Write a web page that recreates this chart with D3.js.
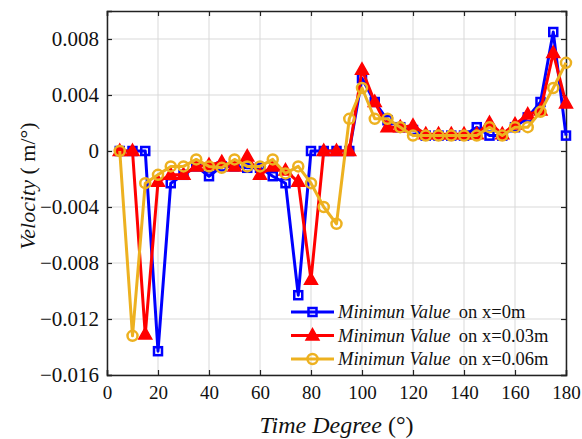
<!DOCTYPE html>
<html>
<head>
<meta charset="utf-8">
<script src="https://cdn.jsdelivr.net/npm/d3@7"></script>
<style>
  svg text, svg tspan { font-family: "Liberation Serif", "Times New Roman", Tinos, serif !important; }
</style>
</head>
<body style="margin:0">
<script>
// sample angles
const degrees = [5,10,15,20,25,30,35,40,45,50,55,60,65,70,75,80,85,90,95,100,105,110,115,120,125,130,135,140,145,150,155,160,165,170,175,180];

const velX0 = [0,0,0,-0.0143,-0.0023,-0.0017,-0.0011,-0.0018,-0.0011,-0.0011,-0.0012,-0.0012,-0.0018,-0.0023,-0.0103,0,0,0,0,0.0052,0.0035,0.0022,0.0017,0.0015,0.0011,0.0011,0.0011,0.0011,0.0017,0.0011,0.0011,0.0017,0.0024,0.0035,0.0085,0.0011];
const velX003 = [0,0,-0.0131,-0.0022,-0.0017,-0.0017,-0.0011,-0.0010,-0.0008,-0.0011,-0.0004,-0.0017,-0.0011,-0.0014,-0.0022,-0.0092,0,0,0,0.0058,0.0035,0.0017,0.0017,0.0018,0.0012,0.0012,0.0012,0.0012,0.0012,0.0020,0.0012,0.0019,0.0026,0.0029,0.0070,0.0034];
const velX006 = [0,-0.0132,-0.0023,-0.0017,-0.0011,-0.0011,-0.0006,-0.0011,-0.0012,-0.0006,-0.0011,-0.0011,-0.0006,-0.0016,-0.0011,-0.0023,-0.0040,-0.0052,0.0023,0.0045,0.0023,0.0023,0.0017,0.0011,0.0011,0.0011,0.0011,0.0011,0.0011,0.0017,0.0011,0.0017,0.0017,0.0028,0.0045,0.0063];

const xTicks = [0,20,40,60,80,100,120,140,160,180];
const yTicks = [-0.016,-0.012,-0.008,-0.004,0,0.004,0.008];
const seriesNames = ["on x=0m", "on x=0.03m", "on x=0.06m"];

const FONT = '"Liberation Serif", serif';
const width = 582, height = 439;
const margin = { left: 107, right: 16, top: 11, bottom: 64 };

const svg = d3.select("body").append("svg")
  .attr("width", width)
  .attr("height", height)
  .attr("font-family", FONT);

const x = d3.scaleLinear().domain([0, 180]).range([margin.left, width - margin.right]);
const y = d3.scaleLinear().domain([-0.016, 0.01]).range([height - margin.bottom, margin.top]);

// grid
const grid = svg.append("g");
grid.selectAll("line.gx").data(xTicks).enter().append("line")
  .attr("x1", d => x(d)).attr("x2", d => x(d))
  .attr("y1", y.range()[0]).attr("y2", y.range()[1])
  .attr("stroke", "#d9d9d9").attr("stroke-width", 1);
grid.selectAll("line.gy").data(yTicks).enter().append("line")
  .attr("y1", d => y(d)).attr("y2", d => y(d))
  .attr("x1", x.range()[0]).attr("x2", x.range()[1])
  .attr("stroke", "#d9d9d9").attr("stroke-width", 1);

// axes (ticks inward, all four sides)
const fmtY = d => d === 0 ? "0" : d3.format(".3f")(d).replace("-", "\u2212");
const xAxisG = svg.append("g").attr("transform", `translate(0,${y(-0.016)})`)
  .call(d3.axisBottom(x).tickValues(xTicks).tickSize(-5).tickPadding(11));
xAxisG.attr("font-family", FONT).selectAll("text").attr("font-size", 19);
svg.append("g").attr("transform", `translate(0,${y(0.01)})`)
  .call(d3.axisTop(x).tickValues(xTicks).tickSize(-5).tickFormat(""));
const yAxisG = svg.append("g").attr("transform", `translate(${x(0)},0)`)
  .call(d3.axisLeft(y).tickValues(yTicks).tickSize(-5).tickPadding(8).tickFormat(fmtY));
yAxisG.attr("font-family", FONT).selectAll("text").attr("font-size", 21);
svg.append("g").attr("transform", `translate(${x(180)},0)`)
  .call(d3.axisRight(y).tickValues(yTicks).tickSize(-5).tickFormat(""));
svg.selectAll(".domain").attr("stroke", "#222").attr("stroke-width", 1.5);
svg.selectAll(".tick line").attr("stroke", "#222").attr("stroke-width", 1.2);

// series
const series = [
  { values: velX0, color: "#0000ff", marker: "square" },
  { values: velX003, color: "#ff0000", marker: "triangle" },
  { values: velX006, color: "#edb120", marker: "circle" }
];

function drawMarker(g, type, color, cx, cy) {
  if (type === "square") {
    g.append("rect").attr("x", cx - 4).attr("y", cy - 4).attr("width", 8).attr("height", 8)
      .attr("fill", "none").attr("stroke", color).attr("stroke-width", 2.5);
  } else if (type === "triangle") {
    g.append("path").attr("d", `M${cx},${cy - 7}L${cx + 6.5},${cy + 4.5}L${cx - 6.5},${cy + 4.5}Z`)
      .attr("fill", color).attr("stroke", color).attr("stroke-width", 1.5);
  } else {
    g.append("circle").attr("cx", cx).attr("cy", cy).attr("r", 5)
      .attr("fill", "none").attr("stroke", color).attr("stroke-width", 2.5);
  }
}

const line = d3.line().x((d, i) => x(degrees[i])).y(d => y(d));

series.forEach(s => {
  const g = svg.append("g");
  g.append("path").datum(s.values)
    .attr("d", line)
    .attr("fill", "none")
    .attr("stroke", s.color)
    .attr("stroke-width", 3)
    .attr("stroke-linejoin", "round");
  s.values.forEach((v, i) => drawMarker(g, s.marker, s.color, x(degrees[i]), y(v)));
});

// legend
const legend = svg.append("g");
series.forEach((s, i) => {
  const ly = 312 + i * 23.5;
  legend.append("line").attr("x1", 291).attr("x2", 334).attr("y1", ly).attr("y2", ly)
    .attr("stroke", s.color).attr("stroke-width", 3);
  drawMarker(legend, s.marker, s.color, 312.5, ly);
  const t = legend.append("text").attr("font-family", FONT)
    .attr("x", 338).attr("y", ly + 6).attr("font-size", 18.5);
  t.append("tspan").attr("font-style", "italic").text("Minimun Value");
  t.append("tspan").text("\u2009 " + seriesNames[i]);
});

// axis labels
const xl = svg.append("text").attr("font-family", FONT)
  .attr("x", (x(0) + x(180)) / 2).attr("y", 433)
  .attr("text-anchor", "middle").attr("font-size", 24);
xl.append("tspan").attr("font-style", "italic").text("Time Degree");
xl.append("tspan").text(" (\u00b0)");

const yl = svg.append("text").attr("font-family", FONT)
  .attr("transform", `translate(35,186) rotate(-90)`)
  .attr("text-anchor", "middle").attr("font-size", 22);
yl.append("tspan").attr("font-style", "italic").text("Velocity");
yl.append("tspan").text(" ( m/\u00b0)");

svg.selectAll("text").attr("fill", "#111");
</script>
</body>
</html>
